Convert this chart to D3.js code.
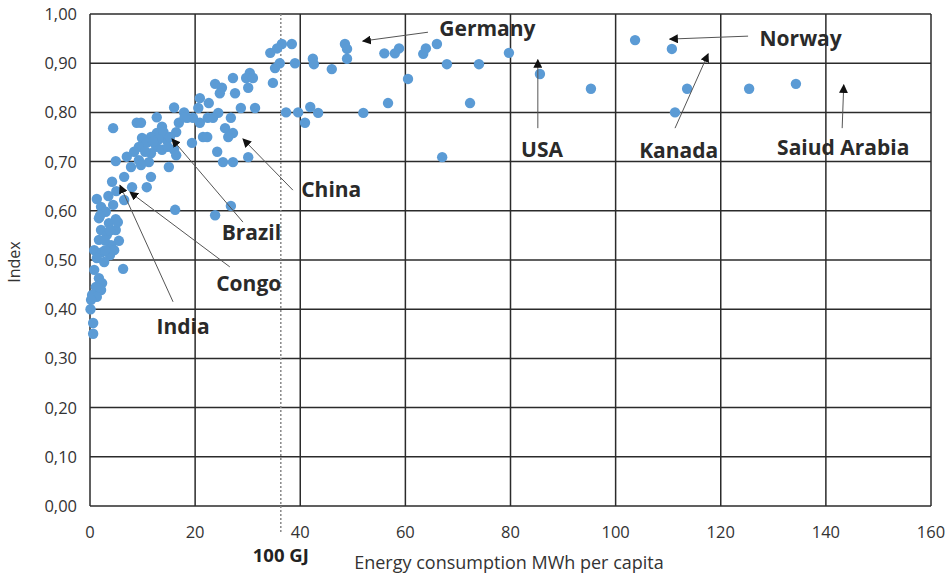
<!DOCTYPE html>
<html>
<head>
<meta charset="utf-8">
<script src="https://cdn.jsdelivr.net/npm/d3@7"></script>
<style>
  body { margin: 0; background: #fff; }
  text { font-family: "Open Sans", Lato, sans-serif; }
</style>
</head>
<body>
<script>
// energy consumption (MWh per capita) and index, one entry per country
const energy = [
  103.7, 110.7, 95.3, 113.6, 111.3, 125.4, 134.3, 85.6, 79.7, 74.0,
  67.9, 66.0, 63.9, 63.4, 58.8, 58.0, 56.0, 60.5, 72.3, 67.0,
  56.7, 52.0, 48.5, 48.9, 48.9, 46.0, 42.4, 42.6, 41.9, 43.4,
  40.9, 36.5, 38.4, 35.6, 34.3, 36.1, 35.2, 39.0, 34.8, 37.3,
  39.6, 30.4, 29.7, 31.0, 30.1, 27.2, 23.8, 25.1, 24.7, 27.6,
  20.9, 22.6, 20.6, 28.7, 31.4, 24.4, 19.6, 20.9, 22.4, 23.4,
  26.8, 25.7, 27.2, 26.3, 21.5, 22.3, 19.4, 24.2, 25.3, 27.2,
  30.1, 26.8, 23.8, 16.0, 17.9, 18.5, 12.7, 4.4, 8.9, 9.7,
  13.7, 16.9, 16.4, 12.7, 11.6, 9.9, 14.6, 10.8, 9.3, 12.6,
  13.7, 8.4, 11.6, 16.0, 16.4, 7.0, 4.9, 9.3, 11.2, 7.8,
  9.7, 15.0, 6.5, 11.6, 4.2, 8.0, 10.8, 1.3, 6.5, 4.4,
  2.1, 3.0, 4.9, 1.7, 3.6, 4.9, 2.1, 3.2, 5.5, 1.7,
  4.0, 4.6, 0.8, 2.3, 1.3, 2.7, 6.3, 0.8, 1.7, 2.3,
  1.1, 2.1, 0.4, 1.3, 0.2, 0.1, 0.6, 0.6, 16.2, 3.5,
  5.0, 2.8, 3.8, 14.0, 15.2, 13.0, 10.5, 12.0, 18.0, 14.8,
  1.9, 3.8, 5.3, 2.9
];
const index = [
  0.947, 0.929, 0.848, 0.848, 0.800, 0.848, 0.858, 0.878, 0.921, 0.898,
  0.898, 0.939, 0.930, 0.919, 0.930, 0.920, 0.920, 0.868, 0.819, 0.709,
  0.819, 0.799, 0.939, 0.929, 0.909, 0.888, 0.909, 0.898, 0.811, 0.799,
  0.779, 0.939, 0.939, 0.930, 0.921, 0.900, 0.890, 0.900, 0.860, 0.800,
  0.800, 0.880, 0.870, 0.870, 0.850, 0.870, 0.858, 0.850, 0.839, 0.839,
  0.829, 0.819, 0.809, 0.809, 0.809, 0.799, 0.789, 0.779, 0.789, 0.789,
  0.789, 0.768, 0.758, 0.750, 0.750, 0.750, 0.738, 0.720, 0.699, 0.699,
  0.709, 0.610, 0.591, 0.810, 0.800, 0.789, 0.790, 0.768, 0.779, 0.779,
  0.771, 0.779, 0.760, 0.758, 0.750, 0.748, 0.744, 0.738, 0.730, 0.730,
  0.724, 0.720, 0.717, 0.724, 0.713, 0.710, 0.701, 0.703, 0.699, 0.689,
  0.693, 0.689, 0.669, 0.669, 0.659, 0.648, 0.648, 0.624, 0.622, 0.612,
  0.608, 0.598, 0.583, 0.585, 0.575, 0.561, 0.561, 0.551, 0.539, 0.541,
  0.530, 0.520, 0.520, 0.516, 0.504, 0.496, 0.482, 0.480, 0.463, 0.453,
  0.445, 0.439, 0.429, 0.425, 0.419, 0.400, 0.372, 0.350, 0.602, 0.630,
  0.640, 0.540, 0.510, 0.760, 0.750, 0.745, 0.720, 0.740, 0.790, 0.730,
  0.590, 0.560, 0.577, 0.520
];

const xTicks = [0, 20, 40, 60, 80, 100, 120, 140, 160];
const yTicks = [0, 0.1, 0.2, 0.3, 0.4, 0.5, 0.6, 0.7, 0.8, 0.9, 1.0];

// country labels: text centre and arrow from / to, in data units
const labels = ['Germany', 'Norway', 'Kanada', 'Saiud Arabia', 'USA', 'China', 'Brazil', 'Congo', 'India'];
const labelX = [75.6, 135.2, 112.0, 143.3, 86.0, 45.9, 30.7, 30.2, 17.7];
const labelY = [0.972, 0.951, 0.724, 0.730, 0.726, 0.644, 0.557, 0.453, 0.366];
const arrowFrom = [[64.3, 0.963], [125.2, 0.955], [111.3, 0.768], [143.1, 0.768], [85.2, 0.768],
                   [38.6, 0.642], [29.1, 0.577], [26.6, 0.486], [15.8, 0.415]];
const arrowTo = [[51.9, 0.945], [110.3, 0.949], [117.6, 0.919], [143.4, 0.856], [85.2, 0.907],
                 [29.1, 0.746], [15.6, 0.746], [7.6, 0.638], [5.7, 0.652]];

const gjLine = 36.3; // 100 GJ marker

const width = 952, height = 574;
const svg = d3.select('body').append('svg')
  .attr('width', width)
  .attr('height', height);

const x = d3.scaleLinear().domain([0, 160]).range([90, 931]);
const y = d3.scaleLinear().domain([0, 1]).range([506, 14]);

const comma = d3.formatLocale({decimal: ',', thousands: '.', grouping: [3], currency: ['', '']}).format('.2f');

svg.append('defs').append('marker')
  .attr('id', 'head')
  .attr('viewBox', '0 0 10 10')
  .attr('refX', 9).attr('refY', 5)
  .attr('markerWidth', 9).attr('markerHeight', 9)
  .attr('markerUnits', 'userSpaceOnUse')
  .attr('orient', 'auto')
  .append('path')
  .attr('d', 'M0,0 L10,5 L0,10 z')
  .attr('fill', '#111');

// grid
svg.append('g').selectAll('line')
  .data(yTicks).enter()
  .append('line')
  .attr('x1', x(0)).attr('x2', x(160))
  .attr('y1', d => y(d)).attr('y2', d => y(d))
  .attr('stroke', '#2b2b2b').attr('stroke-width', 1.5);

svg.append('g').selectAll('line')
  .data(xTicks).enter()
  .append('line')
  .attr('x1', d => x(d)).attr('x2', d => x(d))
  .attr('y1', y(0)).attr('y2', y(1))
  .attr('stroke', '#2b2b2b').attr('stroke-width', 1.5);

// tick labels
svg.append('g').selectAll('text')
  .data(yTicks).enter()
  .append('text')
  .attr('x', 77)
  .attr('y', d => y(d) + 6)
  .attr('text-anchor', 'end')
  .attr('font-size', 16.5)
  .attr('fill', '#333')
  .text(d => comma(d));

svg.append('g').selectAll('text')
  .data(xTicks).enter()
  .append('text')
  .attr('x', d => x(d))
  .attr('y', 538)
  .attr('text-anchor', 'middle')
  .attr('font-size', 16.5)
  .attr('fill', '#333')
  .text(d => d);

// 100 GJ dotted line
svg.append('line')
  .attr('x1', x(gjLine)).attr('x2', x(gjLine))
  .attr('y1', y(1)).attr('y2', 533)
  .attr('stroke', '#888')
  .attr('stroke-width', 1.5)
  .attr('stroke-dasharray', '2,2');

svg.append('text')
  .attr('x', x(gjLine))
  .attr('y', 562)
  .attr('text-anchor', 'middle')
  .attr('font-size', 18.5)
  .attr('font-weight', 'bold')
  .attr('fill', '#222')
  .text('100 GJ');

// axis titles
svg.append('text')
  .attr('x', 509)
  .attr('y', 569)
  .attr('text-anchor', 'middle')
  .attr('font-size', 18)
  .attr('fill', '#333')
  .text('Energy consumption MWh per capita');

svg.append('text')
  .attr('transform', 'translate(20,262) rotate(-90)')
  .attr('text-anchor', 'middle')
  .attr('font-size', 16)
  .attr('fill', '#333')
  .text('Index');

// points
svg.append('g').selectAll('circle')
  .data(energy.map((e, i) => [e, index[i]])).enter()
  .append('circle')
  .attr('cx', d => x(d[0]))
  .attr('cy', d => y(d[1]))
  .attr('r', 5.2)
  .attr('fill', '#5b9bd5');

// arrows + labels
svg.append('g').selectAll('line')
  .data(labels).enter()
  .append('line')
  .attr('x1', (d, i) => x(arrowFrom[i][0]))
  .attr('y1', (d, i) => y(arrowFrom[i][1]))
  .attr('x2', (d, i) => x(arrowTo[i][0]))
  .attr('y2', (d, i) => y(arrowTo[i][1]))
  .attr('stroke', '#555')
  .attr('stroke-width', 1)
  .attr('marker-end', 'url(#head)');

svg.append('g').selectAll('text')
  .data(labels).enter()
  .append('text')
  .attr('x', (d, i) => x(labelX[i]))
  .attr('y', (d, i) => y(labelY[i]) + 8)
  .attr('text-anchor', 'middle')
  .attr('font-size', 21)
  .attr('font-weight', 'bold')
  .attr('fill', '#2a2a2a')
  .text(d => d);
</script>
</body>
</html>
